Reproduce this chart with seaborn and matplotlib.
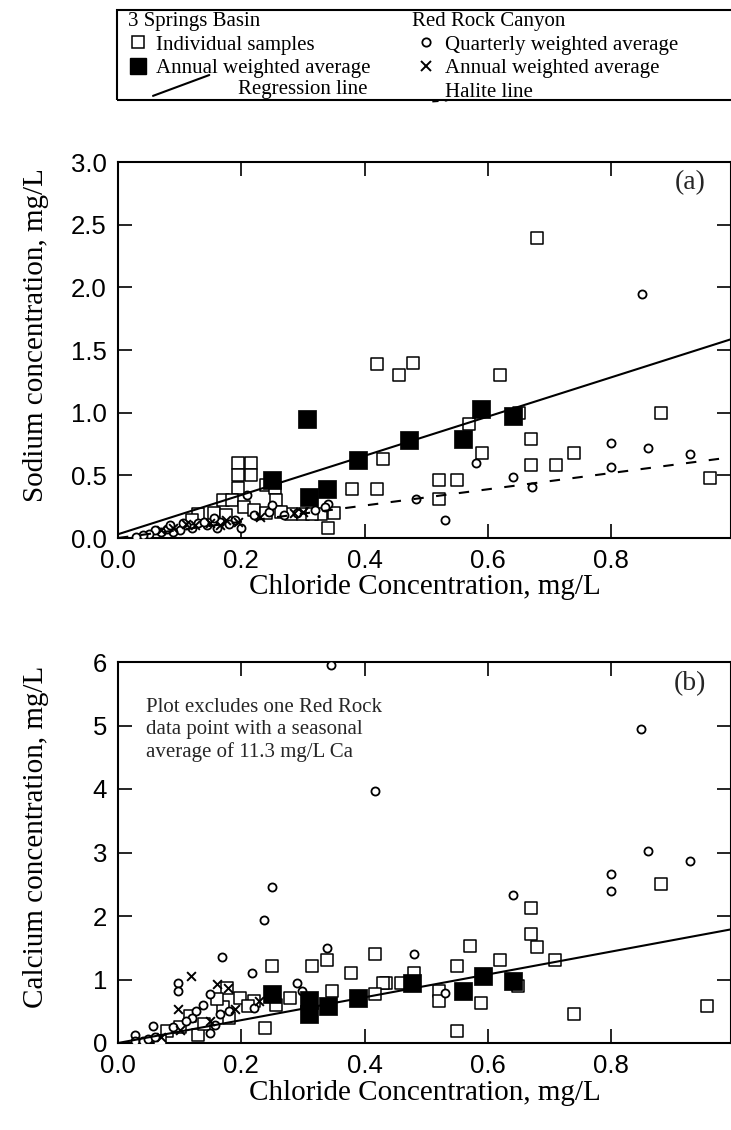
import numpy as np
import pandas as pd
import matplotlib
matplotlib.use("Agg")
import matplotlib.pyplot as plt
import seaborn as sns
from matplotlib.lines import Line2D
from matplotlib.patches import Rectangle
from matplotlib.legend_handler import HandlerLine2D

# ---------------- data ----------------
# Panel (a): sodium vs chloride
a_samp_cl = [0.68, 0.42, 0.455, 0.478, 0.62, 0.88, 0.65, 0.57, 0.67, 0.59, 0.43, 0.67, 0.71, 0.74,
             0.96, 0.52, 0.55, 0.52, 0.38, 0.42, 0.34, 0.33, 0.35, 0.195, 0.215, 0.195, 0.215, 0.195,
             0.24, 0.255, 0.17, 0.185, 0.205, 0.257, 0.28, 0.30, 0.13, 0.155, 0.175, 0.22, 0.24, 0.265,
             0.12, 0.315]
a_samp_na = [2.39, 1.39, 1.30, 1.40, 1.30, 1.00, 1.00, 0.91, 0.79, 0.68, 0.63, 0.58, 0.58, 0.68,
             0.48, 0.46, 0.46, 0.31, 0.39, 0.39, 0.08, 0.19, 0.20, 0.60, 0.60, 0.50, 0.50, 0.40,
             0.42, 0.40, 0.30, 0.30, 0.25, 0.30, 0.19, 0.19, 0.19, 0.20, 0.18, 0.22, 0.20, 0.21,
             0.14, 0.19]
a_ann_cl = [0.307, 0.25, 0.309, 0.339, 0.39, 0.472, 0.56, 0.589, 0.64]
a_ann_na = [0.95, 0.46, 0.33, 0.39, 0.62, 0.78, 0.79, 1.03, 0.97]
a_rrq_cl = [0.85, 0.80, 0.859, 0.928, 0.80, 0.64, 0.672, 0.581, 0.483, 0.53, 0.34, 0.335, 0.32,
            0.29, 0.27, 0.245, 0.22, 0.21, 0.20, 0.19, 0.18, 0.165, 0.155, 0.145, 0.13, 0.12, 0.11,
            0.10, 0.09, 0.08, 0.07, 0.06, 0.05, 0.04, 0.03, 0.085, 0.105, 0.25, 0.16, 0.14]
a_rrq_na = [1.95, 0.76, 0.72, 0.67, 0.57, 0.49, 0.41, 0.60, 0.31, 0.14, 0.27, 0.25, 0.22,
            0.20, 0.18, 0.21, 0.18, 0.34, 0.08, 0.14, 0.11, 0.13, 0.16, 0.10, 0.12, 0.08, 0.10,
            0.06, 0.05, 0.07, 0.05, 0.06, 0.03, 0.02, 0.01, 0.10, 0.12, 0.26, 0.08, 0.13]
a_rra_cl = [0.09, 0.11, 0.125, 0.15, 0.165, 0.175, 0.195, 0.23, 0.285, 0.30, 0.07]
a_rra_na = [0.08, 0.11, 0.10, 0.12, 0.10, 0.14, 0.13, 0.17, 0.20, 0.21, 0.06]
a_reg_x = [0.0, 1.0]
a_reg_y = [0.03, 1.595]
a_hal_x = [0.0, 1.0]
a_hal_y = [0.0, 0.648]

# Panel (b): calcium vs chloride
b_samp_cl = [0.88, 0.669, 0.669, 0.68, 0.571, 0.709, 0.619, 0.549, 0.648, 0.589, 0.52, 0.52, 0.739,
             0.549, 0.956, 0.48, 0.459, 0.435, 0.249, 0.314, 0.339, 0.417, 0.378, 0.43, 0.417,
             0.347, 0.279, 0.238, 0.257, 0.22, 0.176, 0.198, 0.17, 0.211, 0.116, 0.079, 0.068,
             0.13, 0.18, 0.16, 0.14, 0.10]
b_samp_ca = [2.51, 2.12, 1.72, 1.51, 1.53, 1.31, 1.31, 1.22, 0.90, 0.63, 0.82, 0.66, 0.46,
             0.185, 0.58, 1.11, 0.95, 0.95, 1.22, 1.22, 1.31, 1.40, 1.10, 0.95, 0.77,
             0.82, 0.71, 0.24, 0.60, 0.66, 0.87, 0.71, 0.56, 0.58, 0.42, 0.19, 0.03,
             0.13, 0.40, 0.69, 0.30, 0.25]
b_ann_cl = [0.31, 0.31, 0.341, 0.39, 0.25, 0.592, 0.64, 0.56, 0.477]
b_ann_ca = [0.68, 0.45, 0.58, 0.71, 0.77, 1.06, 0.98, 0.82, 0.95]
b_rrq_cl = [0.848, 0.859, 0.928, 0.80, 0.80, 0.64, 0.48, 0.53, 0.345, 0.417, 0.249, 0.237, 0.339,
            0.169, 0.218, 0.098, 0.098, 0.29, 0.298, 0.027, 0.027, 0.04, 0.048, 0.057, 0.127,
            0.138, 0.149, 0.157, 0.149, 0.165, 0.12, 0.11, 0.09, 0.06, 0.18, 0.22]
b_rrq_ca = [4.95, 3.02, 2.86, 2.66, 2.40, 2.33, 1.40, 0.79, 5.95, 3.97, 2.46, 1.94, 1.49,
            1.35, 1.10, 0.95, 0.82, 0.94, 0.82, 0.13, 0.03, 0.03, 0.06, 0.26, 0.50,
            0.60, 0.77, 0.29, 0.16, 0.45, 0.40, 0.35, 0.25, 0.10, 0.50, 0.55]
b_rra_cl = [0.118, 0.098, 0.10, 0.16, 0.179, 0.19, 0.228, 0.15, 0.07]
b_rra_ca = [1.06, 0.53, 0.21, 0.93, 0.87, 0.53, 0.66, 0.35, 0.10]
b_reg_x = [0.0, 1.0]
b_reg_y = [0.0, 1.80]

x_ticks = [0.0, 0.2, 0.4, 0.6, 0.8]
a_yticks = [0.0, 0.5, 1.0, 1.5, 2.0, 2.5, 3.0]
b_yticks = [0, 1, 2, 3, 4, 5, 6]

# ---------------- style ----------------
sns.set_theme(style="ticks")
plt.rcParams['font.family'] = ['Liberation Sans', 'DejaVu Sans']
SERIF = ['Liberation Serif', 'DejaVu Serif']

W, H = 731, 1130
fig = plt.figure(figsize=(W / 100, H / 100), dpi=100)
fig.patch.set_facecolor('white')


def fx(px):
    return px / W


def fy(py):
    return 1 - py / H


ax_a = fig.add_axes([fx(118), fy(538), fx(731) - fx(118), fy(162) - fy(538)])
ax_b = fig.add_axes([fx(118), fy(1043), fx(731) - fx(118), fy(662) - fy(1043)])

SQ = 80
FSQ = 170
CI = 34
XS = 40


def draw_panel(ax, s_cl, s_v, an_cl, an_v, q_cl, q_v, x_cl, x_v, reg_x, reg_y):
    sns.scatterplot(x=s_cl, y=s_v, ax=ax, marker='s', s=SQ, facecolor='white',
                    edgecolor='black', linewidth=1.1, zorder=3)
    sns.scatterplot(x=q_cl, y=q_v, ax=ax, marker='o', s=CI, facecolor='white',
                    edgecolor='black', linewidth=1.3, zorder=4)
    sns.scatterplot(x=x_cl, y=x_v, ax=ax, marker='x', s=XS, color='black',
                    linewidth=1.4, zorder=4)
    sns.scatterplot(x=an_cl, y=an_v, ax=ax, marker='s', s=FSQ, color='black',
                    edgecolor='black', linewidth=0.5, zorder=5)
    sns.lineplot(x=reg_x, y=reg_y, ax=ax, color='black', linewidth=1.5, zorder=6)


draw_panel(ax_a, a_samp_cl, a_samp_na, a_ann_cl, a_ann_na, a_rrq_cl, a_rrq_na,
           a_rra_cl, a_rra_na, a_reg_x, a_reg_y)
sns.lineplot(x=a_hal_x, y=a_hal_y, ax=ax_a, color='black', linewidth=1.5,
             linestyle=(0, (5, 6)), zorder=6)
draw_panel(ax_b, b_samp_cl, b_samp_ca, b_ann_cl, b_ann_ca, b_rrq_cl, b_rrq_ca,
           b_rra_cl, b_rra_ca, b_reg_x, b_reg_y)

XMAX = 613 / 616.6
for ax, yt, ylim, lab in [(ax_a, a_yticks, (0, 3.0), "Sodium concentration, mg/L"),
                          (ax_b, b_yticks, (0, 6.0), "Calcium concentration, mg/L")]:
    ax.set_xlim(0, XMAX)
    ax.set_ylim(*ylim)
    ax.set_xticks(x_ticks)
    ax.set_xticklabels([f"{v:.1f}" for v in x_ticks])
    ax.set_yticks(yt)
    if ax is ax_a:
        ax.set_yticklabels([f"{v:.1f}" for v in yt])
    else:
        ax.set_yticklabels([f"{v:d}" for v in yt])
    ax.tick_params(direction='in', length=10, width=1.2, top=True, right=True,
                   labelsize=18.5, colors='black')
    ax.tick_params(axis='x', pad=8)
    ax.tick_params(axis='y', pad=8)
    for sp in ax.spines.values():
        sp.set_linewidth(1.5)
        sp.set_color('black')
    ax.set_xlabel("Chloride Concentration, mg/L", fontfamily=SERIF, fontsize=21,
                  labelpad=1, color='black')
    ax.set_ylabel(lab, fontfamily=SERIF, fontsize=21, color='black')
    ax.yaxis.set_label_coords(-0.112, 0.54)
    ax.set_facecolor('white')

ax_a.text(0.933, 0.944, "(a)", transform=ax_a.transAxes, ha='center', va='center',
          fontfamily=SERIF, fontsize=20)
ax_b.text(0.933, 0.944, "(b)", transform=ax_b.transAxes, ha='center', va='center',
          fontfamily=SERIF, fontsize=20)
ax_b.text(0.046, 0.905, "Plot excludes one Red Rock\ndata point with a seasonal\naverage of 11.3 mg/L Ca",
          transform=ax_b.transAxes, ha='left', va='top', fontfamily=SERIF, fontsize=15,
          linespacing=1.2)


# ---------------- legend ----------------
class SlopedHandler(HandlerLine2D):
    def __init__(self, dy_lo, dy_hi, x0=0.0, x1=1.0, **kw):
        super().__init__(**kw)
        self.dy_lo, self.dy_hi, self.x0, self.x1 = dy_lo, dy_hi, x0, x1

    def create_artists(self, legend, orig_handle, xdescent, ydescent, width, height,
                       fontsize, trans):
        yc = height / 2 - ydescent
        line = Line2D([-xdescent + self.x0 * width, -xdescent + self.x1 * width],
                      [yc + self.dy_lo * fontsize, yc + self.dy_hi * fontsize])
        self.update_prop(line, orig_handle, legend)
        line.set_marker('')
        line.set_transform(trans)
        return [line]


LFS = 15
lprop = {'family': SERIF, 'size': LFS}

h_samp = Line2D([], [], marker='s', linestyle='', markersize=9, markerfacecolor='white',
                markeredgecolor='black', markeredgewidth=1.1)
h_ann = Line2D([], [], marker='s', linestyle='', markersize=11, markerfacecolor='black',
               markeredgecolor='black')
h_reg = Line2D([], [], color='black', linewidth=1.5)
h_q = Line2D([], [], marker='o', linestyle='', markersize=6, markerfacecolor='white',
             markeredgecolor='black', markeredgewidth=1.3)
h_x = Line2D([], [], marker='x', linestyle='', markersize=7, color='black',
             markeredgewidth=1.4)
h_hal = Line2D([], [], color='black', linewidth=1.5, linestyle=(0, (3, 3)))

leg1 = fig.legend([h_samp, h_ann], ["Individual samples", "Annual weighted average"],
                  title="3 Springs Basin", title_fontproperties=lprop, prop=lprop,
                  loc='upper left', bbox_to_anchor=(fx(128), fy(12)), frameon=False,
                  borderpad=0, borderaxespad=0, handlelength=1.0, handletextpad=0.35,
                  labelspacing=0.2, alignment='left')
leg1b = fig.legend([h_reg], ["Regression line"], prop=lprop, loc='center left',
                   bbox_to_anchor=(fx(153), fy(89)), frameon=False, borderpad=0,
                   borderaxespad=0, handlelength=2.7, handletextpad=1.4,
                   handler_map={h_reg: SlopedHandler(-0.45, 0.55)})
leg2 = fig.legend([h_q, h_x, h_hal],
                  ["Quarterly weighted average", "Annual weighted average", "Halite line"],
                  title="Red Rock Canyon", title_fontproperties=lprop, prop=lprop,
                  loc='upper left', bbox_to_anchor=(fx(412), fy(12)), frameon=False,
                  borderpad=0, borderaxespad=0, handlelength=1.3, handletextpad=0.3,
                  labelspacing=0.2, alignment='left',
                  handler_map={h_hal: SlopedHandler(-0.55, -0.5, x0=0.75, x1=1.3)})
for lg in (leg1, leg1b, leg2):
    for t in lg.get_texts():
        t.set_color('black')
    lg.get_title().set_color('black')

fig.patches.append(Rectangle((fx(117), fy(100)), fx(740) - fx(117), fy(10) - fy(100),
                             transform=fig.transFigure, fill=False, edgecolor='black',
                             linewidth=1.5))

fig.savefig("out.png", dpi=100, facecolor='white')
